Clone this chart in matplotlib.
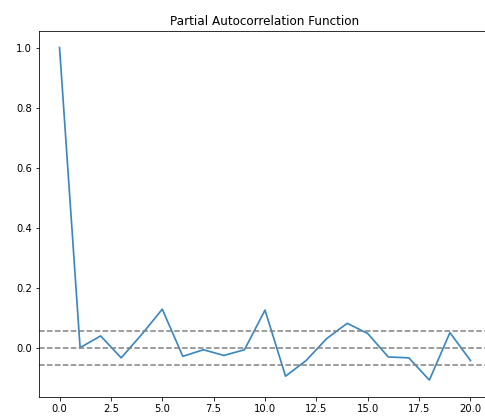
import matplotlib
matplotlib.use("Agg")
import matplotlib.pyplot as plt

# PACF values
lags = list(range(21))
pacf_vals = [1.0, 0.001, 0.040, -0.033, 0.045, 0.129, -0.028, -0.006, -0.025, -0.006,
             0.126, -0.094, -0.042, 0.031, 0.082, 0.048, -0.030, -0.033, -0.107, 0.051,
             -0.042]
conf = 0.056  # 1.96/sqrt(n)

fig = plt.figure(figsize=(485 / 72, 419 / 72), dpi=72)
# axes run past the right edge, like the cropped screenshot
ax = fig.add_axes([0.0804, 0.0532, 0.932, 0.873])

ax.plot(lags, pacf_vals, color='#3a87c0', linewidth=1.7)
ax.axhline(y=0, linestyle='--', color='gray')
ax.axhline(y=-conf, linestyle='--', color='gray')
ax.axhline(y=conf, linestyle='--', color='gray')
ax.set_title('Partial Autocorrelation Function')
ax.spines['right'].set_visible(False)

fig.savefig("out.png", dpi=72)
